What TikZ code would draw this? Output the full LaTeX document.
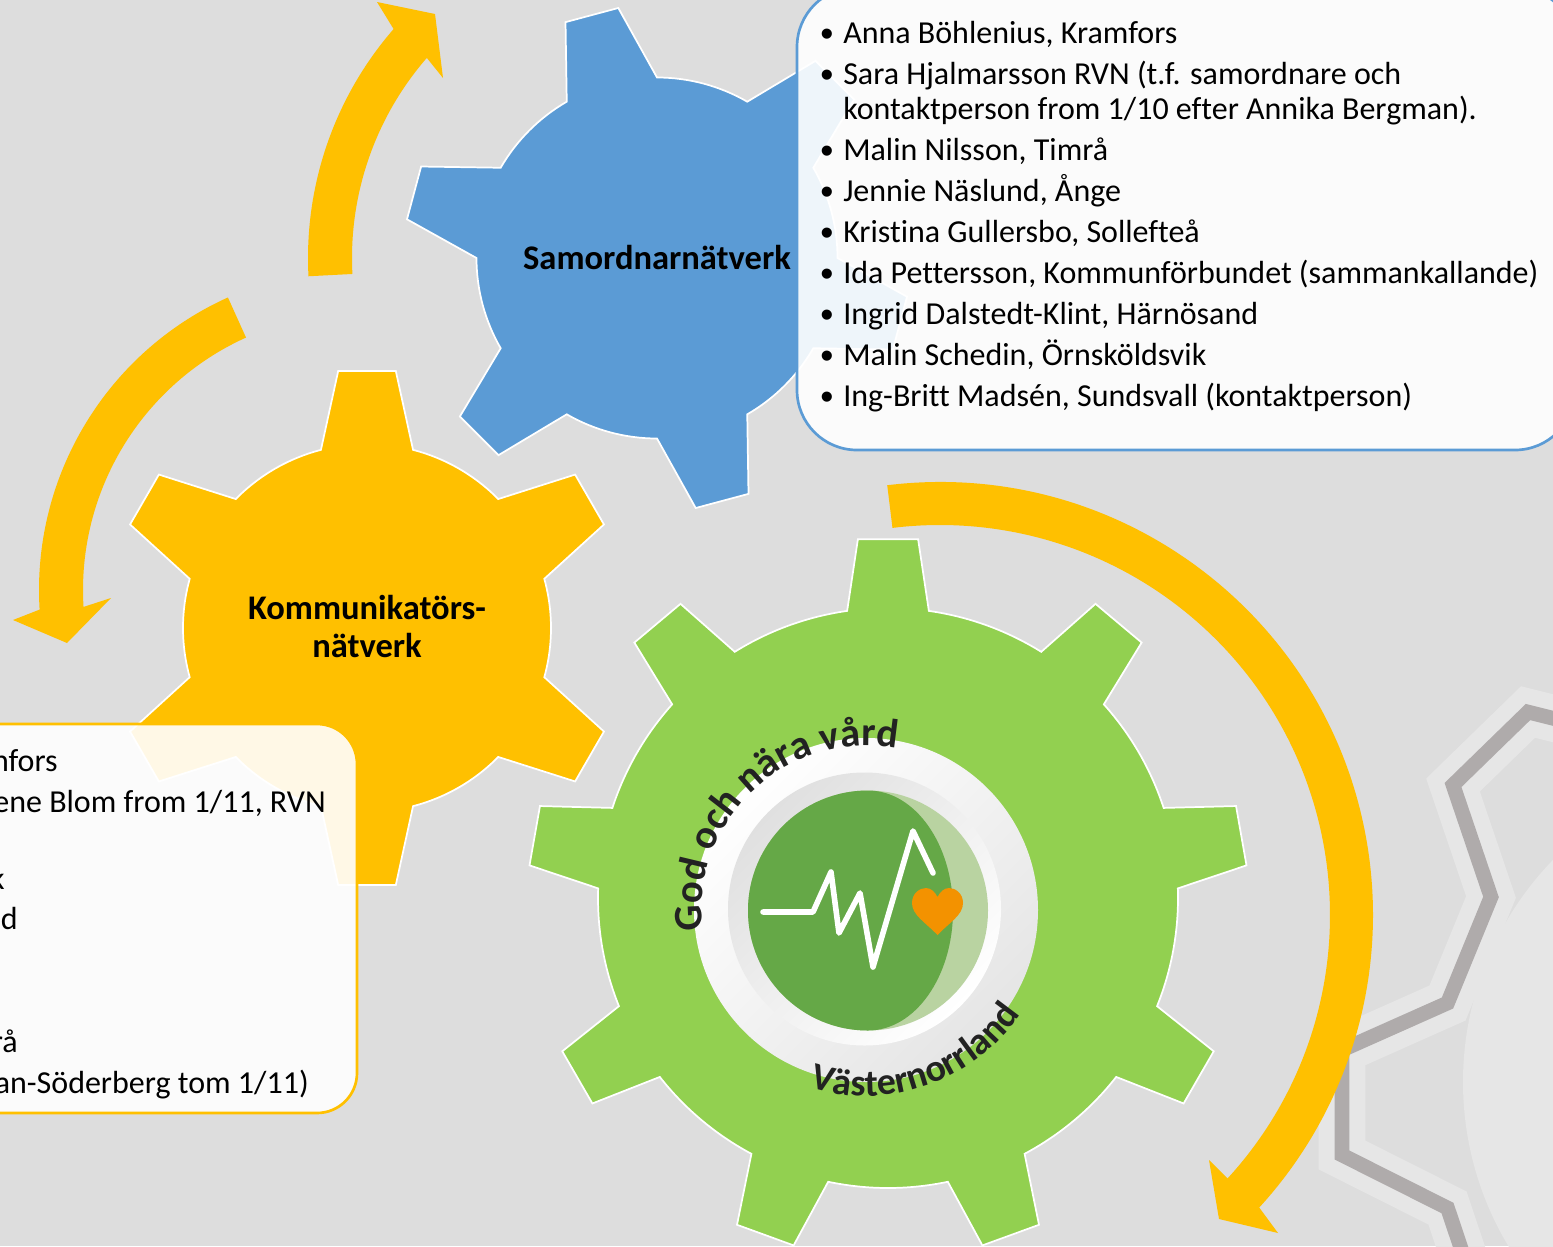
\documentclass[tikz,border=0pt]{standalone}
\usepackage{fontspec}
\setmainfont{Carlito}[Ligatures=NoCommon]
\newfontfamily\bulletfont{Liberation Sans}
\usetikzlibrary{decorations.text}
\definecolor{bgc}{HTML}{DDDDDD}
\definecolor{halo}{HTML}{E6E6E6}
\definecolor{wm}{HTML}{AFABAB}
\definecolor{bluec}{HTML}{5B9BD5}
\definecolor{yellowc}{HTML}{FFC000}
\definecolor{greenc}{HTML}{92D050}
\definecolor{dgreen}{HTML}{65A847}
\definecolor{pgreen}{HTML}{B9D3A1}
\definecolor{heartc}{HTML}{F39200}
\definecolor{arcc}{HTML}{222222}
\definecolor{Ecol}{HTML}{E5E5E5}
\definecolor{Fcol}{HTML}{E0E0E0}
\newcommand{\gearshape}[9]{%
  \begin{scope}[shift={(#1,-#2)}]
  \path[#9] (#4+#7:#5)
    foreach \i [evaluate=\i as \a using #4-(\i-1)*360/#3] in {1,...,#3} {
      -- (\a+#8:#6) -- (\a-#8:#6) -- (\a-#7:#5)
      arc[start angle={\a-#7}, end angle={\a-360/#3+#7}, radius=#5]
    } -- cycle;
  \end{scope}}
\newcommand{\arcfonttop}{\fontsize{30.4}{30}\selectfont\bfseries}
\newcommand{\arcfontbot}{\fontsize{28.5}{28}\selectfont\bfseries}
\tikzset{
  geartooth/.style={fill=#1, draw=white, line width=1.3pt, line join=miter},
  bluebox/.style={fill=white, fill opacity=0.9, draw=none},
  gearlabel/.style={font=\fontsize{25.9}{28.5}\selectfont\bfseries, text=black, align=center, inner sep=0pt},
  listtext/.style={font=\fontsize{24}{26}\selectfont, text=black, anchor=base west, inner sep=0pt},
  listbullet/.style={font=\fontsize{28}{28}\selectfont\bulletfont, text=black, anchor=base west, inner sep=0pt},
  cuttext/.style={font=\fontsize{24}{26}\selectfont, text=black, anchor=base east, inner sep=0pt},
  arrowshape/.style={fill=yellowc, draw=none},
}
\newcommand{\listline}[3]{%
  \node[listbullet] (b#1) at (820,-#2-3) {•};
  \node[listtext] (t#1) at (843,-#2) {#3};}
\begin{document}
\begin{tikzpicture}[x=0.75pt,y=0.75pt]
\useasboundingbox (0,0) rectangle (1553,-1246);
\fill[bgc] (0,0) rectangle (1553,-1246);

% watermark gear
\foreach \col/\wid in {halo/35,wm/11}{
  \draw[color=\col, line width=\wid pt, line join=miter]
    (1600,-730) -- (1528,-712) -- (1453,-785) -- (1491,-897) -- (1447.5,-1003)
    -- (1342,-1050) -- (1342,-1155) -- (1447.5,-1208) -- (1475,-1290);
}
\fill[halo] (1782,-1082) circle[radius=319];

% curved arrows
\begin{scope}[shift={(657,-258)}]
  \fill[arrowshape] (183:349) arc[start angle=183, end angle=139, radius=349]
    -- (-280,256) -- (-222,244) -- (-214,180) -- (139:305)
    arc[start angle=139, end angle=183, radius=305] -- cycle;
\end{scope}
\begin{scope}[shift={(360,-590)}]
  \fill[arrowshape] (114.3:321) arc[start angle=114.3, end angle=183.5, radius=321]
    -- (-347,-30) -- (-293,-53) -- (-249,-8) -- (183.5:277)
    arc[start angle=183.5, end angle=114.3, radius=277] -- cycle;
\end{scope}
\begin{scope}[shift={(940,-915)}]
  \fill[arrowshape] (97:433) arc[start angle=97, end angle=-42.5, radius=433]
    -- (338,-318) -- (279,-304) -- (269,-245) -- (-42.5:390)
    arc[start angle=-42.5, end angle=97, radius=390] -- cycle;
\end{scope}

% gears
\gearshape{657}{258}{6}{105}{180.5}{253}{15}{6.2}{geartooth=bluec}
\gearshape{367}{628}{6}{90}{184}{258.6}{14.5}{6.4}{geartooth=yellowc}
\gearshape{888}{898}{9}{90}{290}{360}{8.1}{4.8}{geartooth=greenc}

% hub of green gear
\shade[top color=white, bottom color=Ecol, shading angle=45] (866,-910) circle[radius=172];
\shade[top color=Fcol, bottom color=white, shading angle=45] (864.5,-909) circle[radius=136.5];
\fill[pgreen] (868,-910.5) circle[radius=120];
\fill[dgreen] (868,-790.5) arc[start angle=90, end angle=270, radius=120]
  arc[start angle=-90, end angle=90, x radius=85, y radius=120] -- cycle;
\draw[white, line width=4.2pt, line cap=round, line join=round]
  (763,-912) -- (813,-912) -- (831,-872) -- (839,-933) -- (860,-893)
  -- (873,-967) -- (913,-831) -- (933,-873);
\fill[heartc] (937.5,-935) .. controls (925,-922) and (912,-915) .. (912,-903)
  .. controls (912,-893) and (920,-888) .. (926,-888)
  .. controls (931,-888) and (935,-892) .. (937.5,-897)
  .. controls (940,-892) and (944,-888) .. (949,-888)
  .. controls (955,-888) and (963,-893) .. (963,-903)
  .. controls (963,-915) and (950,-922) .. (937.5,-935) -- cycle;

% curved text
\path[decorate, decoration={text along path, text color=arcc,
    text={|\arcfonttop|God och nära vård}}]
  (866,-910) ++(187:164) arc[start angle=187, end angle=70, radius=164];
\path[decorate, decoration={text along path, text color=arcc,
    text={|\arcfontbot|Västernorrland}}]
  (866,-910) ++(-107.6:186) arc[start angle=-107.6, end angle=-20, radius=186];

% gear labels
\node[gearlabel] (samordnar) at (657,-258) {Samordnarnätverk};
\node[gearlabel] (kommunikator) at (367,-627) {Kommunikatörs-\\nätverk};

% blue list box
\fill[bluebox] (797,-47) arc[start angle=180, end angle=90, radius=60]
  -- (1515,13) arc[start angle=90, end angle=0, radius=60] -- (1575,-390)
  arc[start angle=0, end angle=-90, radius=60] -- (857,-450)
  arc[start angle=270, end angle=180, radius=60] -- cycle;
\draw[bluec, line width=2pt] (797,-47) arc[start angle=180, end angle=90, radius=60]
  -- (1515,13) arc[start angle=90, end angle=0, radius=60] -- (1575,-390)
  arc[start angle=0, end angle=-90, radius=60] -- (857,-450)
  arc[start angle=270, end angle=180, radius=60] -- cycle;
\listline{1}{43}{Anna Böhlenius, Kramfors}
\listline{2}{84}{Sara Hjalmarsson RVN (t.f. samordnare och}
\node[listtext] (t2b) at (843,-119) {kontaktperson from 1/10 efter Annika Bergman).};
\listline{3}{160}{Malin Nilsson, Timrå}
\listline{4}{201}{Jennie Näslund, Ånge}
\listline{5}{242}{Kristina Gullersbo, Sollefteå}
\listline{6}{283}{Ida Pettersson, Kommunförbundet (sammankallande)}
\listline{7}{324}{Ingrid Dalstedt-Klint, Härnösand}
\listline{8}{365}{Malin Schedin, Örnsköldsvik}
\listline{9}{406}{Ing-Britt Madsén, Sundsvall (kontaktperson)}

% yellow list box
\fill[bluebox] (-50,-724) -- (317,-724) arc[start angle=90, end angle=0, radius=40]
  -- (357,-1073) arc[start angle=0, end angle=-90, radius=40] -- (-50,-1113) -- cycle;
\draw[yellowc, line width=2pt] (-50,-724) -- (317,-724) arc[start angle=90, end angle=0, radius=40]
  -- (357,-1073) arc[start angle=0, end angle=-90, radius=40] -- (-50,-1113);
\node[cuttext] (y1) at (58,-771) {nfors};
\node[cuttext] (y2) at (326,-812) {ene Blom from 1/11, RVN};
\node[cuttext] (y3) at (5,-889) {k};
\node[cuttext] (y4) at (18,-929) {d};
\node[cuttext] (y5) at (18,-1052) {rå};
\node[cuttext] (y6) at (309,-1093) {an-Söderberg tom 1/11)};
\end{tikzpicture}
\end{document}
